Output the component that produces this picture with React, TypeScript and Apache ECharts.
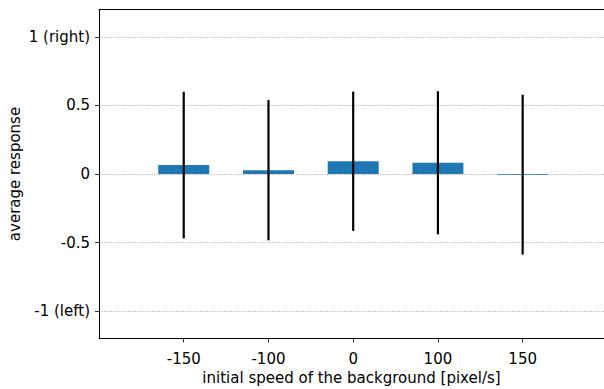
import React, { useEffect, useRef } from "react";
import * as echarts from "echarts";

const categories = ["-150", "-100", "0", "100", "150"];
const meanResponse = [0.065, 0.028, 0.093, 0.082, -0.005];
const errorHalf = [0.535, 0.512, 0.508, 0.522, 0.583];
const yTickValues = [-1, -0.5, 0, 0.5, 1];
const yTickLabels = ["-1 (left)", "-0.5", "0", "0.5", "1 (right)"];

const FONT = "DejaVu Sans";
const FS = 15;

export default function App() {
  const ref = useRef<HTMLDivElement>(null);
  useEffect(() => {
    document.body.style.margin = "0";
    const chart = echarts.init(ref.current!, null, { renderer: "svg" });
    const idx = categories.map((_, i) => i);
    const option: any = {
      animation: false,
      grid: { left: 99, right: 0, top: 9.5, bottom: 50.5, containLabel: false, outerBoundsMode: "none" },
      xAxis: [
        {
          type: "value",
          min: -1,
          max: 4.96,
          name: "initial speed of the background [pixel/s]",
          nameLocation: "middle",
          nameGap: 32,
          nameMoveOverlap: false,
          nameTextStyle: { fontFamily: FONT, fontSize: FS, color: "#000" },
          axisLine: { show: true, onZero: false, lineStyle: { color: "#000", width: 1 } },
          axisTick: { show: true, length: 4, customValues: idx, lineStyle: { color: "#000", width: 0.8 } },
          axisLabel: {
            customValues: idx,
            margin: 13,
            fontFamily: FONT,
            fontSize: FS,
            color: "#000",
            formatter: (v: number) => categories[Math.round(v)] ?? "",
          },
          splitLine: { show: false },
        },
        {
          type: "value",
          position: "top",
          min: -1,
          max: 4.96,
          axisLine: { show: true, onZero: false, lineStyle: { color: "#000", width: 1 } },
          axisTick: { show: false },
          axisLabel: { show: false },
          splitLine: { show: false },
        },
      ],
      yAxis: {
        type: "value",
        min: -1.2,
        max: 1.2,
        name: "average response",
        nameLocation: "middle",
        nameGap: 77,
        nameMoveOverlap: false,
        nameTextStyle: { fontFamily: FONT, fontSize: FS, color: "#000" },
        axisLine: { show: true, onZero: false, lineStyle: { color: "#000", width: 1 } },
        axisTick: { show: true, length: 4, customValues: yTickValues, lineStyle: { color: "#000", width: 0.8 } },
        axisLabel: {
          customValues: yTickValues,
          margin: 9,
          fontFamily: FONT,
          fontSize: FS,
          color: "#000",
          formatter: (v: number) => {
            const k = yTickValues.findIndex((t) => Math.abs(t - v) < 1e-9);
            return k >= 0 ? yTickLabels[k] : "";
          },
        },
        splitLine: { show: true, lineStyle: { color: "#a0a0a0", width: 0.9, type: [1, 1.4] } },
      },
      series: [
        {
          type: "bar",
          data: meanResponse.map((v, i) => [i, v]),
          barWidth: 51,
          itemStyle: { color: "#1f77b4" },
          z: 2,
        },
        {
          type: "custom",
          data: meanResponse.map((v, i) => [i, v - errorHalf[i], v + errorHalf[i]]),
          renderItem: (params: any, api: any) => {
            const x = api.value(0);
            const lo = api.coord([x, api.value(1)]);
            const hi = api.coord([x, api.value(2)]);
            return {
              type: "line",
              shape: { x1: lo[0], y1: lo[1], x2: hi[0], y2: hi[1] },
              style: { stroke: "#000", lineWidth: 2.2 },
            };
          },
          encode: { x: 0, y: [1, 2] },
          z: 3,
        },
      ],
    };
    chart.setOption(option);
    return () => chart.dispose();
  }, []);
  return <div ref={ref} style={{ width: 604, height: 389 }} />;
}
